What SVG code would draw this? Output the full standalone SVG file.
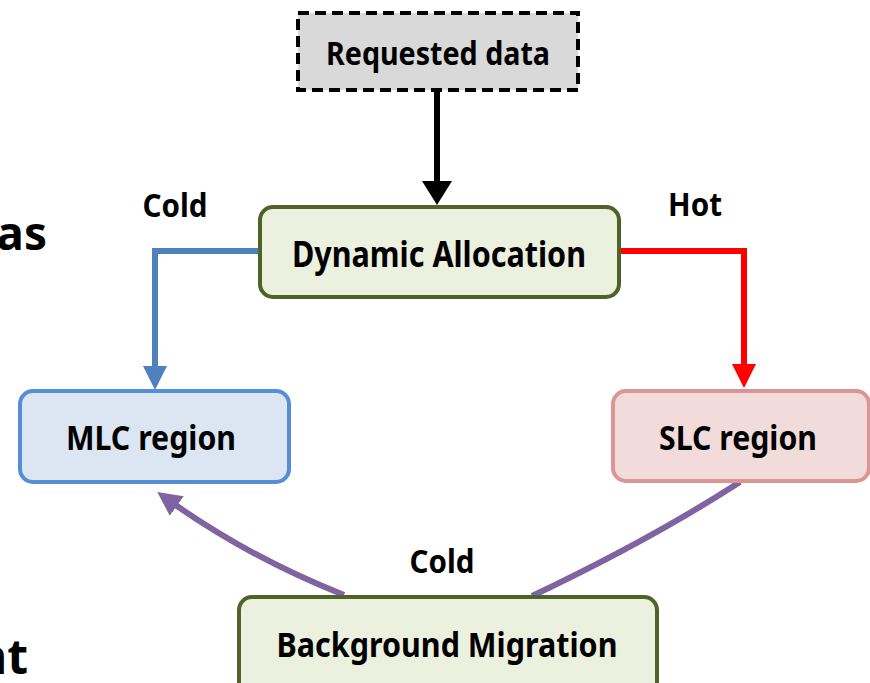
<svg xmlns="http://www.w3.org/2000/svg" width="870" height="683" viewBox="0 0 870 683">
<defs>
<style>
.t{font-family:"Noto Sans","Open Sans","DejaVu Sans",sans-serif;font-weight:bold;fill:#000;text-anchor:middle}
.node{stroke-width:4}
.green{fill:#ebf1de;stroke:#4f6228}
.conn{fill:none;stroke-width:6}
</style>
<marker id="ak" markerWidth="4" markerHeight="5" refX="2" refY="2.5" orient="auto" markerUnits="strokeWidth" viewBox="0 0 4 5"><path d="M0,0 L4,2.5 L0,5z" fill="#000"/></marker>
<marker id="ab" markerWidth="4" markerHeight="4" refX="2" refY="2" orient="auto" markerUnits="strokeWidth" viewBox="0 0 4 4"><path d="M0,0 L4,2 L0,4z" fill="#4f81bd"/></marker>
<marker id="ar" markerWidth="4" markerHeight="4" refX="2" refY="2" orient="auto" markerUnits="strokeWidth" viewBox="0 0 4 4"><path d="M0,0 L4,2 L0,4z" fill="#ff0000"/></marker>
<marker id="ap" markerWidth="4" markerHeight="4" refX="2" refY="2" orient="auto" markerUnits="strokeWidth" viewBox="0 0 4 4"><path d="M0,0 L4,2 L0,4z" fill="#8064a2"/></marker>
</defs>
<rect width="870" height="683" fill="#fff"/>
<text class="t" x="47" y="250" font-size="46" style="text-anchor:end">as</text>
<text class="t" x="28" y="674" font-size="48" style="text-anchor:end">nt</text>
<g id="connectors">
<path class="conn" d="M437,92 L437,193" stroke="#000" stroke-width="5" marker-end="url(#ak)"/>
<path class="conn" d="M259,251 L155,251 L155,378" stroke="#4f81bd" marker-end="url(#ab)"/>
<path class="conn" d="M619,251 L744,251 L744,376" stroke="#ff0000" marker-end="url(#ar)"/>
<path class="conn" d="M344,595 Q248,557 167,499" stroke="#8064a2" marker-end="url(#ap)"/>
<path class="conn" d="M532,596 Q650,540 740,482" stroke="#8064a2"/>
</g>
<g id="requested">
<rect x="298" y="13" width="280" height="77" fill="#d9d9d9" stroke="#000" stroke-width="4" stroke-dasharray="11,6"/>
<text class="t" x="438" y="65" font-size="33" textLength="224" lengthAdjust="spacingAndGlyphs">Requested data</text>
</g>
<g id="dynamic">
<rect class="node green" x="260" y="207" width="359" height="90" rx="13"/>
<text class="t" x="439" y="267" font-size="36" textLength="294" lengthAdjust="spacingAndGlyphs">Dynamic Allocation</text>
</g>
<g id="mlc">
<rect class="node" x="20" y="391" width="269" height="91" rx="13" fill="#dce6f2" stroke="#558ed5"/>
<text class="t" x="151" y="450" font-size="34" textLength="170" lengthAdjust="spacingAndGlyphs">MLC region</text>
</g>
<g id="slc">
<rect class="node" x="613" y="391" width="256" height="90" rx="13" fill="#f2dcdb" stroke="#d99694"/>
<text class="t" x="738" y="450" font-size="34" textLength="158" lengthAdjust="spacingAndGlyphs">SLC region</text>
</g>
<g id="migration">
<rect class="node green" x="239" y="597" width="418" height="100" rx="13"/>
<text class="t" x="447" y="657" font-size="34" textLength="341" lengthAdjust="spacingAndGlyphs">Background Migration</text>
</g>
<g id="labels">
<text class="t" x="175" y="217" font-size="32" textLength="65" lengthAdjust="spacingAndGlyphs">Cold</text>
<text class="t" x="695" y="216" font-size="32" textLength="54" lengthAdjust="spacingAndGlyphs">Hot</text>
<text class="t" x="442" y="573" font-size="32" textLength="65" lengthAdjust="spacingAndGlyphs">Cold</text>
</g>
</svg>
